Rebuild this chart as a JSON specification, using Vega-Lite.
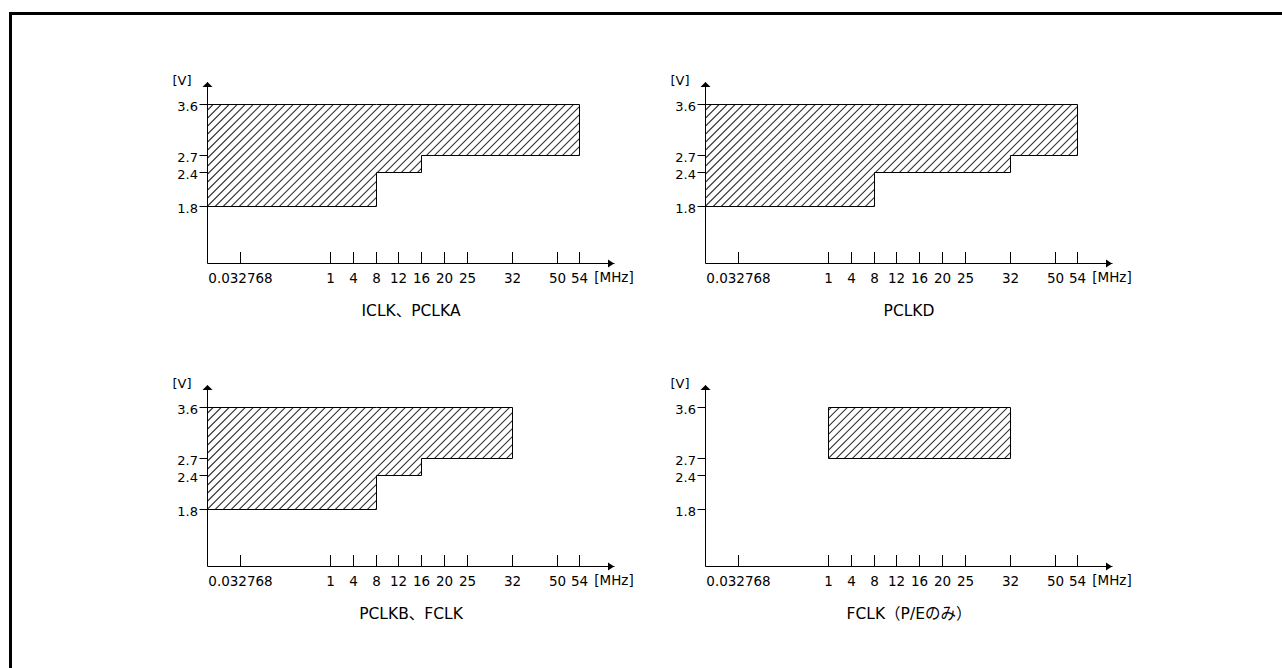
{
 "$schema": "https://vega.github.io/schema/vega-lite/v6.json",
 "background": "white",
 "padding": {"left": 9, "top": 12, "right": 0, "bottom": 0},
 "datasets": {
  "A": [{"f":0,"lo":1.8,"hi":3.6},{"f":8,"lo":2.4,"hi":3.6},{"f":16,"lo":2.7,"hi":3.6},{"f":54,"lo":2.7,"hi":3.6}],
  "B": [{"f":0,"lo":1.8,"hi":3.6},{"f":8,"lo":2.4,"hi":3.6},{"f":32,"lo":2.7,"hi":3.6},{"f":54,"lo":2.7,"hi":3.6}],
  "C": [{"f":0,"lo":1.8,"hi":3.6},{"f":8,"lo":2.4,"hi":3.6},{"f":16,"lo":2.7,"hi":3.6},{"f":32,"lo":2.7,"hi":3.6}],
  "D": [{"f":1,"lo":2.7,"hi":3.6},{"f":32,"lo":2.7,"hi":3.6}]
 },
 "columns": 6,
 "align": "each",
 "bounds": "flush",
 "spacing": 0,
 "concat": [
  {"width": 3, "height": 3, "data": {"values": []}, "mark": "point", "view": {"fill": "#000"}},
  {"width": 195, "height": 3, "data": {"values": []}, "mark": "point", "view": {"fill": "#000"}},
  {"width": 407, "height": 3, "data": {"values": []}, "mark": "point", "view": {"fill": "#000"}},
  {"width": 91, "height": 3, "data": {"values": []}, "mark": "point", "view": {"fill": "#000"}},
  {"width": 407, "height": 3, "data": {"values": []}, "mark": "point", "view": {"fill": "#000"}},
  {"width": 170, "height": 3, "data": {"values": []}, "mark": "point", "view": {"fill": "#000"}},

  {"width": 3, "height": 67, "data": {"values": []}, "mark": "point", "view": {"fill": "#000"}},
  {"width": 0.01, "height": 0.01, "data": {"values": []}, "mark": "point"},
  {"width": 0.01, "height": 0.01, "data": {"values": []}, "mark": "point"},
  {"width": 0.01, "height": 0.01, "data": {"values": []}, "mark": "point"},
  {"width": 0.01, "height": 0.01, "data": {"values": []}, "mark": "point"},
  {"width": 0.01, "height": 0.01, "data": {"values": []}, "mark": "point"},

  {"width": 3, "height": 181, "data": {"values": []}, "mark": "point", "view": {"fill": "#000"}},
  {"width": 0.01, "height": 0.01, "data": {"values": []}, "mark": "point"},
  {"width": 407, "height": 181, "layer": [
   {"data": {"values": [{}]}, "mark": {"type": "rule", "clip": true, "color": "#333", "strokeWidth": 480, "strokeDash": [1.1, 4.56]},
    "encoding": {
     "x": {"datum": 0, "type": "quantitative", "scale": {"type":"linear","domain":[0,0.032768,1,4,8,12,16,20,25,32,50,54,60],"range":[0,33,123,146,169,191,214,237,260,305,350,372,407],"nice":false,"zero":false},
       "axis": {"values":[0.032768,1,4,8,12,16,20,25,32,50,54],"labelExpr":"'' + datum.value","zindex":1,"labelOverlap":false,"labelFlush":false,"labelBound":false,"tickSize":-11.5,"labelPadding":19.5,"labelFontSize":13.5,"title":"ICLK、PCLKA","titleX":203.5,"titleY":40,"titleAlign":"center","titleBaseline":"top","titleFontSize":15.5}},
     "x2": {"datum": 50},
     "y": {"datum": 5.53, "type": "quantitative", "scale": {"type":"linear","domain":[0.79,1.8,2.4,2.7,3.6,4.0],"range":[181,124,90,73,22,0],"nice":false,"zero":false},
       "axis": {"values":[1.8,2.4,2.7,3.6],"format":".1f","zindex":1,"labelOverlap":false,"labelFlush":false,"tickSize":8,"labelPadding":1.5,"labelOffset":2,"title":"[V]","titleAngle":0,"titleX":-25.5,"titleY":2,"titleAlign":"center","titleBaseline":"alphabetic","titleFontSize":13}},
     "y2": {"datum": -0.72}}},
   {"data": {"name": "A"}, "mark": {"type": "area", "interpolate": "step-after", "color": "#fff", "opacity": 1},
    "encoding": {"x": {"field": "f", "type": "quantitative"}, "y": {"field": "lo", "type": "quantitative"}, "y2": {"datum": 0.79}}},
   {"data": {"name": "A"}, "mark": {"type": "area", "interpolate": "step-after", "color": "#fff", "opacity": 1},
    "encoding": {"x": {"field": "f", "type": "quantitative"}, "y": {"field": "hi", "type": "quantitative"}, "y2": {"datum": 4.0}}},
   {"data": {"name": "A"}, "transform": [{"aggregate": [{"op": "min", "field": "f", "as": "fmin"}], "groupby": []}], "mark": {"type": "rect", "color": "#fff", "opacity": 1},
    "encoding": {"x": {"field": "fmin", "type": "quantitative"}, "x2": {"datum": 0}, "y": {"datum": 0.79, "type": "quantitative"}, "y2": {"datum": 4.0}}},
   {"data": {"name": "A"}, "transform": [{"aggregate": [{"op": "max", "field": "f", "as": "fmax"}], "groupby": []}], "mark": {"type": "rect", "color": "#fff", "opacity": 1},
    "encoding": {"x": {"field": "fmax", "type": "quantitative"}, "x2": {"datum": 60}, "y": {"datum": 0.79, "type": "quantitative"}, "y2": {"datum": 4.0}}},
   {"data": {"name": "A"}, "mark": {"type": "area", "interpolate": "step-after", "fillOpacity": 0, "stroke": "#000", "strokeWidth": 1, "xOffset": 0.5, "yOffset": 0.5, "y2Offset": 0.5},
    "encoding": {"x": {"field": "f", "type": "quantitative"}, "y": {"field": "hi", "type": "quantitative"}, "y2": {"field": "lo"}}},
   {"data": {"values": [{}]}, "mark": {"type": "point", "shape": "M0,0L-1,1L1,1Z", "size": 100, "filled": true, "color": "#000", "opacity": 1, "xOffset": 0.5},
    "encoding": {"x": {"datum": 0, "type": "quantitative"}, "y": {"datum": 4.0, "type": "quantitative"}}},
   {"data": {"values": [{}]}, "mark": {"type": "point", "shape": "M0,0L-1.2,-0.8L-1.2,0.8Z", "size": 100, "filled": true, "color": "#000", "opacity": 1, "yOffset": 0.5},
    "encoding": {"x": {"datum": 60, "type": "quantitative"}, "y": {"datum": 0.79, "type": "quantitative"}}},
   {"data": {"values": [{}]}, "mark": {"type": "text", "text": "[MHz]", "align": "center", "baseline": "top", "dy": 8, "fontSize": 13.5, "color": "#000"},
    "encoding": {"x": {"datum": 60, "type": "quantitative"}, "y": {"datum": 0.79, "type": "quantitative"}}}
  ]},
  {"width": 0.01, "height": 0.01, "data": {"values": []}, "mark": "point"},
  {"width": 407, "height": 181, "layer": [
   {"data": {"values": [{}]}, "mark": {"type": "rule", "clip": true, "color": "#333", "strokeWidth": 480, "strokeDash": [1.1, 4.56]},
    "encoding": {
     "x": {"datum": 0, "type": "quantitative", "scale": {"type":"linear","domain":[0,0.032768,1,4,8,12,16,20,25,32,50,54,60],"range":[0,33,123,146,169,191,214,237,260,305,350,372,407],"nice":false,"zero":false},
       "axis": {"values":[0.032768,1,4,8,12,16,20,25,32,50,54],"labelExpr":"'' + datum.value","zindex":1,"labelOverlap":false,"labelFlush":false,"labelBound":false,"tickSize":-11.5,"labelPadding":19.5,"labelFontSize":13.5,"title":"PCLKD","titleX":203.5,"titleY":40,"titleAlign":"center","titleBaseline":"top","titleFontSize":15.5}},
     "x2": {"datum": 50},
     "y": {"datum": 5.53, "type": "quantitative", "scale": {"type":"linear","domain":[0.79,1.8,2.4,2.7,3.6,4.0],"range":[181,124,90,73,22,0],"nice":false,"zero":false},
       "axis": {"values":[1.8,2.4,2.7,3.6],"format":".1f","zindex":1,"labelOverlap":false,"labelFlush":false,"tickSize":8,"labelPadding":1.5,"labelOffset":2,"title":"[V]","titleAngle":0,"titleX":-25.5,"titleY":2,"titleAlign":"center","titleBaseline":"alphabetic","titleFontSize":13}},
     "y2": {"datum": -0.72}}},
   {"data": {"name": "B"}, "mark": {"type": "area", "interpolate": "step-after", "color": "#fff", "opacity": 1},
    "encoding": {"x": {"field": "f", "type": "quantitative"}, "y": {"field": "lo", "type": "quantitative"}, "y2": {"datum": 0.79}}},
   {"data": {"name": "B"}, "mark": {"type": "area", "interpolate": "step-after", "color": "#fff", "opacity": 1},
    "encoding": {"x": {"field": "f", "type": "quantitative"}, "y": {"field": "hi", "type": "quantitative"}, "y2": {"datum": 4.0}}},
   {"data": {"name": "B"}, "transform": [{"aggregate": [{"op": "min", "field": "f", "as": "fmin"}], "groupby": []}], "mark": {"type": "rect", "color": "#fff", "opacity": 1},
    "encoding": {"x": {"field": "fmin", "type": "quantitative"}, "x2": {"datum": 0}, "y": {"datum": 0.79, "type": "quantitative"}, "y2": {"datum": 4.0}}},
   {"data": {"name": "B"}, "transform": [{"aggregate": [{"op": "max", "field": "f", "as": "fmax"}], "groupby": []}], "mark": {"type": "rect", "color": "#fff", "opacity": 1},
    "encoding": {"x": {"field": "fmax", "type": "quantitative"}, "x2": {"datum": 60}, "y": {"datum": 0.79, "type": "quantitative"}, "y2": {"datum": 4.0}}},
   {"data": {"name": "B"}, "mark": {"type": "area", "interpolate": "step-after", "fillOpacity": 0, "stroke": "#000", "strokeWidth": 1, "xOffset": 0.5, "yOffset": 0.5, "y2Offset": 0.5},
    "encoding": {"x": {"field": "f", "type": "quantitative"}, "y": {"field": "hi", "type": "quantitative"}, "y2": {"field": "lo"}}},
   {"data": {"values": [{}]}, "mark": {"type": "point", "shape": "M0,0L-1,1L1,1Z", "size": 100, "filled": true, "color": "#000", "opacity": 1, "xOffset": 0.5},
    "encoding": {"x": {"datum": 0, "type": "quantitative"}, "y": {"datum": 4.0, "type": "quantitative"}}},
   {"data": {"values": [{}]}, "mark": {"type": "point", "shape": "M0,0L-1.2,-0.8L-1.2,0.8Z", "size": 100, "filled": true, "color": "#000", "opacity": 1, "yOffset": 0.5},
    "encoding": {"x": {"datum": 60, "type": "quantitative"}, "y": {"datum": 0.79, "type": "quantitative"}}},
   {"data": {"values": [{}]}, "mark": {"type": "text", "text": "[MHz]", "align": "center", "baseline": "top", "dy": 8, "fontSize": 13.5, "color": "#000"},
    "encoding": {"x": {"datum": 60, "type": "quantitative"}, "y": {"datum": 0.79, "type": "quantitative"}}}
  ]},
  {"width": 0.01, "height": 0.01, "data": {"values": []}, "mark": "point"},

  {"width": 3, "height": 122, "data": {"values": []}, "mark": "point", "view": {"fill": "#000"}},
  {"width": 0.01, "height": 0.01, "data": {"values": []}, "mark": "point"},
  {"width": 0.01, "height": 0.01, "data": {"values": []}, "mark": "point"},
  {"width": 0.01, "height": 0.01, "data": {"values": []}, "mark": "point"},
  {"width": 0.01, "height": 0.01, "data": {"values": []}, "mark": "point"},
  {"width": 0.01, "height": 0.01, "data": {"values": []}, "mark": "point"},

  {"width": 3, "height": 181, "data": {"values": []}, "mark": "point", "view": {"fill": "#000"}},
  {"width": 0.01, "height": 0.01, "data": {"values": []}, "mark": "point"},
  {"width": 407, "height": 181, "layer": [
   {"data": {"values": [{}]}, "mark": {"type": "rule", "clip": true, "color": "#333", "strokeWidth": 480, "strokeDash": [1.1, 4.56]},
    "encoding": {
     "x": {"datum": 0, "type": "quantitative", "scale": {"type":"linear","domain":[0,0.032768,1,4,8,12,16,20,25,32,50,54,60],"range":[0,33,123,146,169,191,214,237,260,305,350,372,407],"nice":false,"zero":false},
       "axis": {"values":[0.032768,1,4,8,12,16,20,25,32,50,54],"labelExpr":"'' + datum.value","zindex":1,"labelOverlap":false,"labelFlush":false,"labelBound":false,"tickSize":-11.5,"labelPadding":19.5,"labelFontSize":13.5,"title":"PCLKB、FCLK","titleX":203.5,"titleY":40,"titleAlign":"center","titleBaseline":"top","titleFontSize":15.5}},
     "x2": {"datum": 50},
     "y": {"datum": 5.53, "type": "quantitative", "scale": {"type":"linear","domain":[0.79,1.8,2.4,2.7,3.6,4.0],"range":[181,124,90,73,22,0],"nice":false,"zero":false},
       "axis": {"values":[1.8,2.4,2.7,3.6],"format":".1f","zindex":1,"labelOverlap":false,"labelFlush":false,"tickSize":8,"labelPadding":1.5,"labelOffset":2,"title":"[V]","titleAngle":0,"titleX":-25.5,"titleY":2,"titleAlign":"center","titleBaseline":"alphabetic","titleFontSize":13}},
     "y2": {"datum": -0.72}}},
   {"data": {"name": "C"}, "mark": {"type": "area", "interpolate": "step-after", "color": "#fff", "opacity": 1},
    "encoding": {"x": {"field": "f", "type": "quantitative"}, "y": {"field": "lo", "type": "quantitative"}, "y2": {"datum": 0.79}}},
   {"data": {"name": "C"}, "mark": {"type": "area", "interpolate": "step-after", "color": "#fff", "opacity": 1},
    "encoding": {"x": {"field": "f", "type": "quantitative"}, "y": {"field": "hi", "type": "quantitative"}, "y2": {"datum": 4.0}}},
   {"data": {"name": "C"}, "transform": [{"aggregate": [{"op": "min", "field": "f", "as": "fmin"}], "groupby": []}], "mark": {"type": "rect", "color": "#fff", "opacity": 1},
    "encoding": {"x": {"field": "fmin", "type": "quantitative"}, "x2": {"datum": 0}, "y": {"datum": 0.79, "type": "quantitative"}, "y2": {"datum": 4.0}}},
   {"data": {"name": "C"}, "transform": [{"aggregate": [{"op": "max", "field": "f", "as": "fmax"}], "groupby": []}], "mark": {"type": "rect", "color": "#fff", "opacity": 1},
    "encoding": {"x": {"field": "fmax", "type": "quantitative"}, "x2": {"datum": 60}, "y": {"datum": 0.79, "type": "quantitative"}, "y2": {"datum": 4.0}}},
   {"data": {"name": "C"}, "mark": {"type": "area", "interpolate": "step-after", "fillOpacity": 0, "stroke": "#000", "strokeWidth": 1, "xOffset": 0.5, "yOffset": 0.5, "y2Offset": 0.5},
    "encoding": {"x": {"field": "f", "type": "quantitative"}, "y": {"field": "hi", "type": "quantitative"}, "y2": {"field": "lo"}}},
   {"data": {"values": [{}]}, "mark": {"type": "point", "shape": "M0,0L-1,1L1,1Z", "size": 100, "filled": true, "color": "#000", "opacity": 1, "xOffset": 0.5},
    "encoding": {"x": {"datum": 0, "type": "quantitative"}, "y": {"datum": 4.0, "type": "quantitative"}}},
   {"data": {"values": [{}]}, "mark": {"type": "point", "shape": "M0,0L-1.2,-0.8L-1.2,0.8Z", "size": 100, "filled": true, "color": "#000", "opacity": 1, "yOffset": 0.5},
    "encoding": {"x": {"datum": 60, "type": "quantitative"}, "y": {"datum": 0.79, "type": "quantitative"}}},
   {"data": {"values": [{}]}, "mark": {"type": "text", "text": "[MHz]", "align": "center", "baseline": "top", "dy": 8, "fontSize": 13.5, "color": "#000"},
    "encoding": {"x": {"datum": 60, "type": "quantitative"}, "y": {"datum": 0.79, "type": "quantitative"}}}
  ]},
  {"width": 0.01, "height": 0.01, "data": {"values": []}, "mark": "point"},
  {"width": 407, "height": 181, "layer": [
   {"data": {"values": [{}]}, "mark": {"type": "rule", "clip": true, "color": "#333", "strokeWidth": 480, "strokeDash": [1.1, 4.56]},
    "encoding": {
     "x": {"datum": 0, "type": "quantitative", "scale": {"type":"linear","domain":[0,0.032768,1,4,8,12,16,20,25,32,50,54,60],"range":[0,33,123,146,169,191,214,237,260,305,350,372,407],"nice":false,"zero":false},
       "axis": {"values":[0.032768,1,4,8,12,16,20,25,32,50,54],"labelExpr":"'' + datum.value","zindex":1,"labelOverlap":false,"labelFlush":false,"labelBound":false,"tickSize":-11.5,"labelPadding":19.5,"labelFontSize":13.5,"title":"FCLK（P/Eのみ）","titleX":203.5,"titleY":40,"titleAlign":"center","titleBaseline":"top","titleFontSize":15.5}},
     "x2": {"datum": 50},
     "y": {"datum": 5.53, "type": "quantitative", "scale": {"type":"linear","domain":[0.79,1.8,2.4,2.7,3.6,4.0],"range":[181,124,90,73,22,0],"nice":false,"zero":false},
       "axis": {"values":[1.8,2.4,2.7,3.6],"format":".1f","zindex":1,"labelOverlap":false,"labelFlush":false,"tickSize":8,"labelPadding":1.5,"labelOffset":2,"title":"[V]","titleAngle":0,"titleX":-25.5,"titleY":2,"titleAlign":"center","titleBaseline":"alphabetic","titleFontSize":13}},
     "y2": {"datum": -0.72}}},
   {"data": {"name": "D"}, "mark": {"type": "area", "interpolate": "step-after", "color": "#fff", "opacity": 1},
    "encoding": {"x": {"field": "f", "type": "quantitative"}, "y": {"field": "lo", "type": "quantitative"}, "y2": {"datum": 0.79}}},
   {"data": {"name": "D"}, "mark": {"type": "area", "interpolate": "step-after", "color": "#fff", "opacity": 1},
    "encoding": {"x": {"field": "f", "type": "quantitative"}, "y": {"field": "hi", "type": "quantitative"}, "y2": {"datum": 4.0}}},
   {"data": {"name": "D"}, "transform": [{"aggregate": [{"op": "min", "field": "f", "as": "fmin"}], "groupby": []}], "mark": {"type": "rect", "color": "#fff", "opacity": 1},
    "encoding": {"x": {"field": "fmin", "type": "quantitative"}, "x2": {"datum": 0}, "y": {"datum": 0.79, "type": "quantitative"}, "y2": {"datum": 4.0}}},
   {"data": {"name": "D"}, "transform": [{"aggregate": [{"op": "max", "field": "f", "as": "fmax"}], "groupby": []}], "mark": {"type": "rect", "color": "#fff", "opacity": 1},
    "encoding": {"x": {"field": "fmax", "type": "quantitative"}, "x2": {"datum": 60}, "y": {"datum": 0.79, "type": "quantitative"}, "y2": {"datum": 4.0}}},
   {"data": {"name": "D"}, "mark": {"type": "area", "interpolate": "step-after", "fillOpacity": 0, "stroke": "#000", "strokeWidth": 1, "xOffset": 0.5, "yOffset": 0.5, "y2Offset": 0.5},
    "encoding": {"x": {"field": "f", "type": "quantitative"}, "y": {"field": "hi", "type": "quantitative"}, "y2": {"field": "lo"}}},
   {"data": {"values": [{}]}, "mark": {"type": "point", "shape": "M0,0L-1,1L1,1Z", "size": 100, "filled": true, "color": "#000", "opacity": 1, "xOffset": 0.5},
    "encoding": {"x": {"datum": 0, "type": "quantitative"}, "y": {"datum": 4.0, "type": "quantitative"}}},
   {"data": {"values": [{}]}, "mark": {"type": "point", "shape": "M0,0L-1.2,-0.8L-1.2,0.8Z", "size": 100, "filled": true, "color": "#000", "opacity": 1, "yOffset": 0.5},
    "encoding": {"x": {"datum": 60, "type": "quantitative"}, "y": {"datum": 0.79, "type": "quantitative"}}},
   {"data": {"values": [{}]}, "mark": {"type": "text", "text": "[MHz]", "align": "center", "baseline": "top", "dy": 8, "fontSize": 13.5, "color": "#000"},
    "encoding": {"x": {"datum": 60, "type": "quantitative"}, "y": {"datum": 0.79, "type": "quantitative"}}}
  ]},
  {"width": 0.01, "height": 0.01, "data": {"values": []}, "mark": "point"},

  {"width": 3, "height": 102, "data": {"values": []}, "mark": "point", "view": {"fill": "#000"}},
  {"width": 0.01, "height": 0.01, "data": {"values": []}, "mark": "point"},
  {"width": 0.01, "height": 0.01, "data": {"values": []}, "mark": "point"},
  {"width": 0.01, "height": 0.01, "data": {"values": []}, "mark": "point"},
  {"width": 0.01, "height": 0.01, "data": {"values": []}, "mark": "point"},
  {"width": 0.01, "height": 0.01, "data": {"values": []}, "mark": "point"}
 ],
 "config": {
  "view": {"stroke": null},
  "font": "DejaVu Sans, Noto Sans CJK JP, sans-serif",
  "text": {"font": "DejaVu Sans, Noto Sans CJK JP, sans-serif"},
  "axis": {"domainColor": "#000", "tickColor": "#000", "labelColor": "#000", "titleColor": "#000", "labelFont": "DejaVu Sans, Noto Sans CJK JP, sans-serif", "titleFont": "DejaVu Sans, Noto Sans CJK JP, sans-serif", "labelFontSize": 13, "titleFontWeight": "normal", "grid": false, "zindex": 1, "labelOverlap": false, "labelFlush": false, "labelBound": false, "domainWidth": 1, "tickWidth": 1}
 }
}
